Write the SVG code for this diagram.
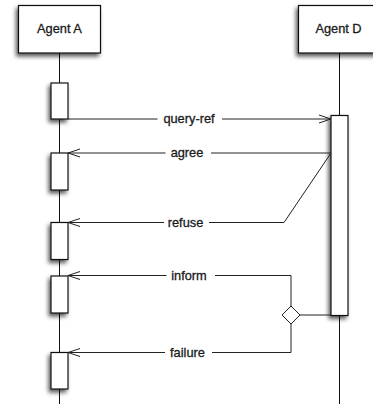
<svg xmlns="http://www.w3.org/2000/svg" width="373" height="404" viewBox="0 0 373 404">
<defs>
<filter id="sh" x="-50%" y="-50%" width="200%" height="200%">
<feDropShadow dx="-2" dy="3" stdDeviation="2" flood-color="#000" flood-opacity="0.65"/>
</filter>
<marker id="open" viewBox="0 0 14 10" refX="13" refY="5" markerWidth="14" markerHeight="10" markerUnits="userSpaceOnUse" orient="auto">
<path d="M1,1 L13,5 L1,9" fill="none" stroke="#222" stroke-width="1"/>
</marker>
</defs>
<style>
.box{fill:#fff;stroke:#111;stroke-width:1.2;filter:url(#sh)}
.life{stroke:#111;stroke-width:1;fill:none}
.msg{stroke:#222;stroke-width:1;fill:none}
.t{font-family:"Liberation Sans",Arial,sans-serif;font-size:12.8px;fill:#1a1a1a;stroke:#1a1a1a;stroke-width:0.3;text-anchor:middle}
</style>
<rect width="373" height="404" fill="#fff"/>
<g id="lifelines">
<line class="life" x1="59.5" y1="53" x2="59.5" y2="404"/>
<line class="life" x1="339.5" y1="53" x2="339.5" y2="404"/>
</g>
<g id="agentA">
<rect class="box" x="18.5" y="5.5" width="82" height="47.5"/>
<text class="t" x="59.5" y="33">Agent A</text>
</g>
<g id="agentD">
<rect class="box" x="298.5" y="5.5" width="82" height="47.5"/>
<text class="t" x="338.5" y="33">Agent D</text>
</g>
<g id="actA1"><rect class="box" x="51" y="83" width="17" height="36"/></g>
<g id="actA2"><rect class="box" x="51" y="153" width="17" height="37"/></g>
<g id="actA3"><rect class="box" x="51" y="222.5" width="17" height="37"/></g>
<g id="actA4"><rect class="box" x="51" y="276" width="17" height="37"/></g>
<g id="actA5"><rect class="box" x="51" y="352.5" width="17" height="36.5"/></g>
<g id="actD"><rect class="box" x="331" y="115.5" width="17" height="200"/></g>
<g id="decision">
<path d="M291,306 L300,315 L291,324 L282,315 Z" fill="#fff" stroke="#222" stroke-width="1"/>
</g>
<g id="connectors">
<line class="msg" x1="68" y1="119" x2="157.5" y2="119"/>
<line class="msg" x1="222" y1="119" x2="331" y2="119" marker-end="url(#open)"/>
<text class="t" x="189" y="123">query-ref</text>

<line class="msg" x1="331" y1="153" x2="211" y2="153"/>
<line class="msg" x1="165.5" y1="153" x2="68" y2="153" marker-end="url(#open)"/>
<text class="t" x="187" y="157">agree</text>

<polyline class="msg" points="331,153 284,222.5 209,222.5"/>
<line class="msg" x1="164" y1="222.5" x2="68" y2="222.5" marker-end="url(#open)"/>
<text class="t" x="185.5" y="226.5">refuse</text>

<line class="msg" x1="300" y1="315" x2="331" y2="315"/>
<polyline class="msg" points="291,306 291,275.5 215,275.5"/>
<line class="msg" x1="166.5" y1="275.5" x2="68" y2="275.5" marker-end="url(#open)"/>
<text class="t" x="189" y="279.5">inform</text>

<polyline class="msg" points="291,324 291,352.5 212,352.5"/>
<line class="msg" x1="165" y1="352.5" x2="68" y2="352.5" marker-end="url(#open)"/>
<text class="t" x="187.5" y="356.5">failure</text>
</g>
</svg>
